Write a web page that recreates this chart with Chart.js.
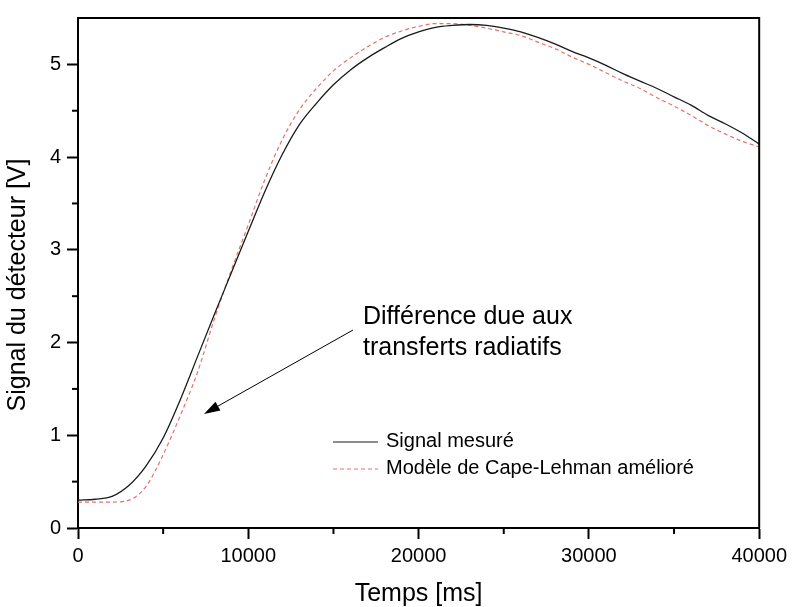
<!DOCTYPE html>
<html>
<head>
<meta charset="utf-8">
<script src="https://cdn.jsdelivr.net/npm/chart.js@4"></script>
<style>
    html, body {
        margin: 0;
        padding: 0;
        background: #fff;
    }

    .chart-container {
        width: 792px;
        height: 607px;
    }
</style>
</head>
<body>
<div class="chart-container">
    <canvas id="lineChart" width="792" height="607"></canvas>
</div>
<script>
    // time in ms
    const time = [
        0, 1000, 2000, 3000, 4000, 5000, 6000, 7000, 8000, 9000,
        10000, 11000, 12000, 13000, 14000, 15000, 16000, 17000, 18000, 19000,
        20000, 21000, 22000, 23000, 24000, 25000, 26000, 27000, 28000, 29000,
        30000, 31000, 32000, 33000, 34000, 35000, 36000, 37000, 38000, 39000,
        40000,
    ];

    // measured signal [V]
    const signalMesure = [
        0.30, 0.31, 0.34, 0.46, 0.67, 0.97, 1.38, 1.84, 2.30, 2.75,
        3.20, 3.64, 4.03, 4.35, 4.58, 4.78, 4.94, 5.07, 5.18, 5.28,
        5.35, 5.40, 5.42, 5.43, 5.42, 5.39, 5.35, 5.29, 5.22, 5.14,
        5.07, 4.99, 4.90, 4.82, 4.74, 4.65, 4.56, 4.45, 4.36, 4.26,
        4.14,
    ];

    // improved Cape-Lehman model [V]
    const modeleCapeLehman = [
        0.28, 0.28, 0.28, 0.30, 0.45, 0.79, 1.21, 1.67, 2.25, 2.78,
        3.27, 3.77, 4.19, 4.51, 4.74, 4.93, 5.07, 5.19, 5.29, 5.36,
        5.41, 5.44, 5.44, 5.42, 5.39, 5.35, 5.31, 5.24, 5.17, 5.08,
        5.00, 4.91, 4.82, 4.74, 4.64, 4.55, 4.45, 4.34, 4.25, 4.17,
        4.11,
    ];

    const xTicks = [0, 10000, 20000, 30000, 40000];
    const xMinorTicks = [5000, 15000, 25000, 35000];
    const yTicks = [0, 1, 2, 3, 4, 5];
    const yMinorTicks = [0.5, 1.5, 2.5, 3.5, 4.5];

    const seriesLabels = ["Signal mesuré", "Modèle de Cape-Lehman amélioré"];
    const annotationLines = ["Différence due aux", "transferts radiatifs"];
    const yTitle = "Signal du détecteur [V]";

    const FONT = "'Liberation Sans', Arial, sans-serif";

    const toPoints = (values) => time.map((t, i) => ({ x: t, y: values[i] }));

    // frame, minor ticks, y title, legend and the arrow note
    const extras = {
        id: "extras",
        afterDraw(chart) {
            const { ctx, chartArea, scales } = chart;
            const { left, right, top, bottom } = chartArea;
            ctx.save();

            ctx.strokeStyle = "#000";
            ctx.lineWidth = 2;
            ctx.beginPath();
            ctx.moveTo(left, top);
            ctx.lineTo(right, top);
            ctx.lineTo(right, bottom);
            ctx.stroke();

            xMinorTicks.forEach((v) => {
                const px = scales.x.getPixelForValue(v);
                ctx.beginPath();
                ctx.moveTo(px, bottom);
                ctx.lineTo(px, bottom + 6);
                ctx.stroke();
            });
            yMinorTicks.forEach((v) => {
                const py = scales.y.getPixelForValue(v);
                ctx.beginPath();
                ctx.moveTo(left, py);
                ctx.lineTo(left - 6, py);
                ctx.stroke();
            });

            // y title, a bit lower than the scale centre
            ctx.save();
            ctx.translate(18, 285);
            ctx.rotate(-Math.PI / 2);
            ctx.font = "25px " + FONT;
            ctx.fillStyle = "#000";
            ctx.textAlign = "center";
            ctx.textBaseline = "middle";
            ctx.fillText(yTitle, 0, 0);
            ctx.restore();

            // legend
            const ds = chart.data.datasets;
            ctx.font = "20px " + FONT;
            ctx.textBaseline = "middle";
            ctx.fillStyle = "#000";
            [442, 469].forEach((y, i) => {
                ctx.strokeStyle = ds[i].borderColor;
                ctx.lineWidth = 1;
                ctx.setLineDash(ds[i].borderDash || []);
                ctx.beginPath();
                ctx.moveTo(333, y);
                ctx.lineTo(378, y);
                ctx.stroke();
                ctx.setLineDash([]);
                ctx.fillText(seriesLabels[i], 386, y - 1);
            });

            // annotation
            ctx.font = "25px " + FONT;
            ctx.textBaseline = "alphabetic";
            ctx.fillText(annotationLines[0], 363, 324);
            ctx.fillText(annotationLines[1], 363, 355);

            const x0 = 353, y0 = 330, x1 = 204, y1 = 414;
            const ang = Math.atan2(y1 - y0, x1 - x0);
            ctx.strokeStyle = "#000";
            ctx.lineWidth = 1;
            ctx.beginPath();
            ctx.moveTo(x0, y0);
            ctx.lineTo(x1 - 10 * Math.cos(ang), y1 - 10 * Math.sin(ang));
            ctx.stroke();
            ctx.beginPath();
            ctx.moveTo(x1, y1);
            ctx.lineTo(x1 - 16 * Math.cos(ang) + 5 * Math.sin(ang), y1 - 16 * Math.sin(ang) - 5 * Math.cos(ang));
            ctx.lineTo(x1 - 16 * Math.cos(ang) - 5 * Math.sin(ang), y1 - 16 * Math.sin(ang) + 5 * Math.cos(ang));
            ctx.closePath();
            ctx.fillStyle = "#000";
            ctx.fill();

            ctx.restore();
        },
    };

    const ctx = document.getElementById("lineChart").getContext("2d");

    new Chart(ctx, {
        type: "line",
        data: {
            datasets: [
                {
                    label: seriesLabels[0],
                    data: toPoints(signalMesure),
                    borderColor: "#1a1a1a",
                    borderWidth: 1.3,
                    pointRadius: 0,
                    cubicInterpolationMode: "monotone",
                },
                {
                    label: seriesLabels[1],
                    data: toPoints(modeleCapeLehman),
                    borderColor: "#e8706c",
                    borderWidth: 1.2,
                    borderDash: [4, 3],
                    pointRadius: 0,
                    cubicInterpolationMode: "monotone",
                },
            ],
        },
        options: {
            responsive: false,
            animation: false,
            layout: {
                padding: { top: 10, right: 30, left: 0, bottom: 0 },
            },
            plugins: {
                legend: { display: false },
                tooltip: { enabled: false },
            },
            scales: {
                x: {
                    type: "linear",
                    min: 0,
                    max: 40000,
                    afterFit: (scale) => {
                        scale.height = 79;
                    },
                    afterBuildTicks: (scale) => {
                        scale.ticks = xTicks.map((v) => ({ value: v }));
                    },
                    ticks: {
                        color: "#000",
                        font: { family: FONT, size: 20 },
                        padding: 5,
                        maxRotation: 0,
                        callback: (v) => String(v),
                    },
                    grid: {
                        drawOnChartArea: false,
                        tickLength: 11,
                        tickColor: "#000",
                        tickWidth: 2,
                    },
                    border: { color: "#000", width: 2 },
                    title: {
                        display: true,
                        text: "Temps [ms]",
                        color: "#000",
                        font: { family: FONT, size: 25 },
                        padding: { top: 0, bottom: -2 },
                    },
                },
                y: {
                    type: "linear",
                    min: 0,
                    max: 5.5,
                    afterFit: (scale) => {
                        scale.width = 78;
                    },
                    afterBuildTicks: (scale) => {
                        scale.ticks = yTicks.map((v) => ({ value: v }));
                    },
                    ticks: {
                        color: "#000",
                        font: { family: FONT, size: 20 },
                        padding: 6,
                        callback: (v) => String(v),
                    },
                    grid: {
                        drawOnChartArea: false,
                        tickLength: 11,
                        tickColor: "#000",
                        tickWidth: 2,
                    },
                    border: { color: "#000", width: 2 },
                },
            },
        },
        plugins: [extras],
    });
</script>
</body>
</html>
